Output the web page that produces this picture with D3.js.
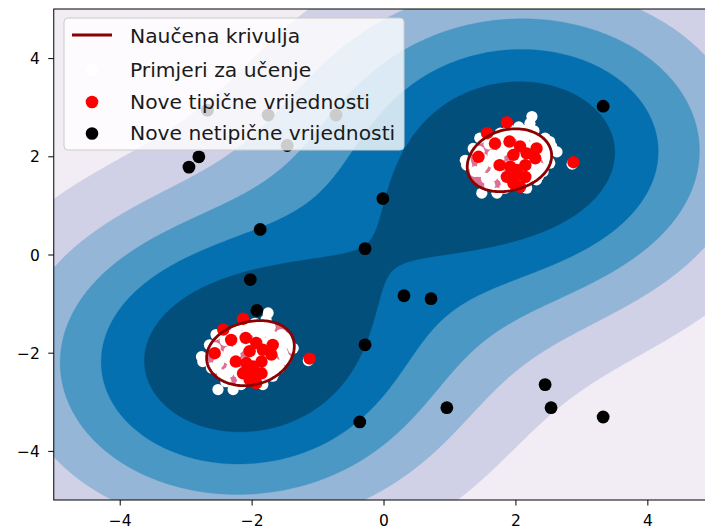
<!DOCTYPE html>
<html><head><meta charset="utf-8">
<script src="https://cdn.jsdelivr.net/npm/d3@7"></script>
<style>body{margin:0;background:#fff}svg{display:block}text{font-family:"DejaVu Sans",sans-serif}</style>
</head><body><svg id="chart" width="705" height="531"></svg>
<script>
// ---- data ----
const clusterCenters = [[2, 2], [-2, -2]];
// training samples, as offsets around each cluster centre
const trainOffsets = [
  [0.25,0.81],[0.22,0.67],[0.45,0.37],[0.52,0.30],[0.63,0.09],[0.52,-0.14],[-0.76,-0.08],[-0.74,-0.18],
  [-0.51,-0.75],[-0.28,-0.75],[-0.16,-0.65],[0.17,-0.65],[0.32,-0.48],[-0.54,0.37],[-0.64,0.16],[0.12,0.47],
  [0.42,0.20],[-0.39,-0.59],[-0.54,-0.31],[0.42,-0.31],[-0.34,0.03],[0.32,-0.18],[0.07,0.43],[0.37,0.30],
  [-0.44,-0.45],[0.17,0.54],[-0.23,0.47],[-0.61,-0.31],[0.47,-0.01],[0.86,-0.16],
  [0.0,0.0],[0.1,0.12],[-0.2,0.1],[0.2,-0.1],[-0.1,-0.2],[0.25,-0.3],[-0.35,-0.12],[0.1,0.3],[-0.15,0.25],
  [0.3,0.05],[-0.45,-0.1],[-0.3,0.28],[0.0,-0.45],[-0.2,-0.4],[0.15,-0.35],[-0.05,0.15],[0.35,0.15],[-0.3,-0.3],
  [-0.55,0.1],[-0.5,-0.2],[-0.4,0.25],[-0.25,0.4],[-0.05,0.45],[0.15,0.4],[0.3,0.35],[0.45,0.1],[0.5,-0.1],
  [0.4,-0.25],[0.25,-0.45],[0.05,-0.55],[-0.15,-0.5],[-0.35,-0.4],[-0.5,-0.05],[-0.25,-0.05],[0.05,-0.1],
  [0.2,0.2],[-0.1,0.35],[0.1,-0.25],[-0.4,0.4],[0.35,-0.4],[0.55,0.2],[-0.1,0.55],[0.05,0.6],[0.28,0.52]
];
// new regular observations, as offsets around each cluster centre
const testOffsets = [
  [-0.13,0.69],[-0.43,0.47],[-0.31,0.26],[-0.09,0.30],[0.07,0.20],[0.32,0.16],[-0.56,-0.01],[-0.03,0.03],
  [0.17,0.06],[-0.24,-0.18],[-0.08,-0.21],[0.15,-0.18],[0.30,-0.04],[-0.13,-0.42],[0.04,-0.38],[0.15,-0.42],
  [-0.03,-0.55],[0.07,-0.62],[0.88,-0.12],[0.02,-0.28]
];
// new abnormal observations
const abnormalPoints = [
  [3.33,3.02],[-2.80,1.99],[-2.95,1.78],[-0.01,1.14],[-1.87,0.51],[-0.28,0.12],[-2.02,-0.51],[0.31,-0.84],
  [0.72,-0.90],[-1.92,-1.14],[-0.28,-1.84],[2.45,-2.65],[0.96,-3.12],[2.54,-3.12],[3.33,-3.31],[-0.36,-3.41],
  [-2.67,2.94],[-1.75,2.84],[-0.72,2.84],[-1.46,2.22]
];
// points the learned curve passes through
const boundaryPoints = [[1.30,1.97],[2.57,2.03],[2.02,2.58],[1.82,1.36],[-2.69,-1.98],[-1.36,-1.95],[-2.0,-1.32],[-2.1,-2.65]];
const xTicks = [-4, -2, 0, 2, 4];
const yTicks = [-4, -2, 0, 2, 4];
const legendLabels = ["Naučena krivulja", "Primjeri za učenje", "Nove tipične vrijednosti", "Nove netipične vrijednosti"];
const gamma = 0.1, nu = 0.1;
const nLevels = 7;

// ---- layout ----
const plot = {left: 53.75, top: 9, right: 713.3, bottom: 500};
const xs = d3.scaleLinear().domain([-5, 5]).range([plot.left, plot.right]);
const ys = d3.scaleLinear().domain([-5, 5]).range([plot.bottom, plot.top]);

const svg = d3.select("#chart");
svg.append("defs").append("clipPath").attr("id", "clip")
  .append("rect").attr("x", plot.left).attr("y", plot.top)
  .attr("width", plot.right - plot.left).attr("height", plot.bottom - plot.top);

const train = clusterCenters.flatMap(c => trainOffsets.map(o => [c[0] + o[0], c[1] + o[1]]));
const test = clusterCenters.flatMap(c => testOffsets.map(o => [c[0] + o[0], c[1] + o[1]]));

const kern = (a, b) => Math.exp(-gamma * ((a[0]-b[0])**2 + (a[1]-b[1])**2));

// one-class SVM (RBF kernel) trained by SMO on the training samples
function trainOneClassSVM(X) {
  const l = X.length, C = 1;
  const K = X.map(a => X.map(b => kern(a, b)));
  const alpha = new Float64Array(l);
  const n = Math.floor(nu * l);
  for (let i = 0; i < n; i++) alpha[i] = 1;
  if (n < l) alpha[n] = nu * l - n;
  const G = new Float64Array(l);
  for (let i = 0; i < l; i++) { let s = 0; for (let j = 0; j < l; j++) s += K[i][j] * alpha[j]; G[i] = s; }
  for (let it = 0; it < 200000; it++) {
    let gmax = -Infinity, gmin = Infinity, ii = -1, jj = -1;
    for (let t = 0; t < l; t++) {
      if (alpha[t] < C - 1e-12 && -G[t] > gmax) { gmax = -G[t]; ii = t; }
      if (alpha[t] > 1e-12 && -G[t] < gmin) { gmin = -G[t]; jj = t; }
    }
    if (ii < 0 || jj < 0 || gmax - gmin < 1e-9) break;
    const a = Math.max(K[ii][ii] + K[jj][jj] - 2 * K[ii][jj], 1e-12);
    let delta = (G[jj] - G[ii]) / a;
    delta = Math.min(delta, C - alpha[ii], alpha[jj]);
    alpha[ii] += delta; alpha[jj] -= delta;
    for (let t = 0; t < l; t++) G[t] += delta * (K[t][ii] - K[t][jj]);
  }
  const sv = [];
  for (let i = 0; i < l; i++) if (alpha[i] > 1e-10) sv.push({p: X[i], a: alpha[i]});
  return sv;
}
const sv = trainOneClassSVM(train);
const raw = (x, y) => { let s = 0; for (const v of sv) s += v.a * kern([x, y], v.p); return s; };
const rho = d3.mean(boundaryPoints, p => raw(p[0], p[1]));

const N = 300;
const values = new Float64Array(N * N);
for (let j = 0; j < N; j++) {
  const y = -5 + (j + 0.5) * 10 / N;
  for (let i = 0; i < N; i++) values[i + j * N] = raw(-5 + (i + 0.5) * 10 / N, y) - rho;
}
const zMin = d3.min(values);
const levels = d3.range(nLevels).map(k => zMin + (0 - zMin) * k / (nLevels - 1));

const pubu = d3.piecewise(d3.interpolateRgb, d3.schemePuBu[9]);
const bandColor = k => pubu((k + 0.5) / (nLevels - 1));

const proj = d3.geoTransform({point(u, v) { this.stream.point(xs(-5 + u * 10 / N), ys(-5 + v * 10 / N)); }});
const path = d3.geoPath(proj);
const contours = d3.contours().size([N, N]);

const gPlot = svg.append("g").attr("clip-path", "url(#clip)");
gPlot.append("rect").attr("x", plot.left).attr("y", plot.top)
  .attr("width", plot.right - plot.left).attr("height", plot.bottom - plot.top).attr("fill", bandColor(0));
for (let k = 1; k < nLevels - 1; k++) {
  gPlot.append("path").attr("d", path(contours.contour(values, levels[k])))
    .attr("fill", bandColor(k)).attr("stroke", bandColor(k)).attr("stroke-width", 0.3);
}
const frontier = contours.contour(values, 0);
gPlot.append("path").attr("d", path(frontier)).attr("fill", "palevioletred");

// scatter
gPlot.append("g").selectAll("circle").data(train).join("circle")
  .attr("cx", d => xs(d[0])).attr("cy", d => ys(d[1])).attr("r", 5.6).attr("fill", "white");
gPlot.append("g").selectAll("circle").data(test).join("circle")
  .attr("cx", d => xs(d[0])).attr("cy", d => ys(d[1])).attr("r", 6.2).attr("fill", "red");
gPlot.append("g").selectAll("circle").data(abnormalPoints).join("circle")
  .attr("cx", d => xs(d[0])).attr("cy", d => ys(d[1])).attr("r", 6.4).attr("fill", "black");
// learned frontier
gPlot.append("path").attr("d", path(frontier))
  .attr("fill", "none").attr("stroke", "darkred").attr("stroke-width", 2.8);

// axes
const xAxis = d3.axisBottom(xs).tickValues(xTicks).tickSize(5.5).tickPadding(9);
const yAxis = d3.axisLeft(ys).tickValues(yTicks).tickSize(5.5).tickPadding(8.5);
const gx = svg.append("g").attr("transform", `translate(0,${plot.bottom})`).call(xAxis);
const gy = svg.append("g").attr("transform", `translate(${plot.left},0)`).call(yAxis);
[gx, gy].forEach(g => {
  g.select(".domain").remove();
  g.selectAll("text").attr("font-family", "DejaVu Sans").attr("font-size", 15.5).attr("fill", "#000")
    .text(d => d < 0 ? "\u2212" + Math.abs(d) : String(d));
  g.selectAll("line").attr("stroke", "#000").attr("stroke-width", 1);
});
gy.selectAll("text").attr("dy", "0.36em");
svg.append("rect").attr("x", plot.left).attr("y", plot.top)
  .attr("width", plot.right - plot.left).attr("height", plot.bottom - plot.top)
  .attr("fill", "none").attr("stroke", "#000").attr("stroke-width", 1);

// legend
const lg = svg.append("g");
lg.append("rect").attr("x", 64).attr("y", 18).attr("width", 340).attr("height", 132).attr("rx", 4)
  .attr("fill", "white").attr("fill-opacity", 0.8).attr("stroke", "#cccccc").attr("stroke-width", 1);
const rowY = [35, 69, 101, 132.5];
lg.append("line").attr("x1", 72).attr("x2", 112).attr("y1", rowY[0]).attr("y2", rowY[0])
  .attr("stroke", "darkred").attr("stroke-width", 2.8);
const markerFill = [null, "white", "red", "black"];
for (let i = 1; i < 4; i++) {
  lg.append("circle").attr("cx", 92).attr("cy", rowY[i] + 1).attr("r", 6.3).attr("fill", markerFill[i]);
}
lg.selectAll("text.lab").data(legendLabels).join("text").attr("class", "lab")
  .attr("x", 130).attr("y", (d, i) => rowY[i] + 7.5).attr("font-size", 20.3).attr("fill", "#1a1a1a").text(d => d);
</script></body></html>
